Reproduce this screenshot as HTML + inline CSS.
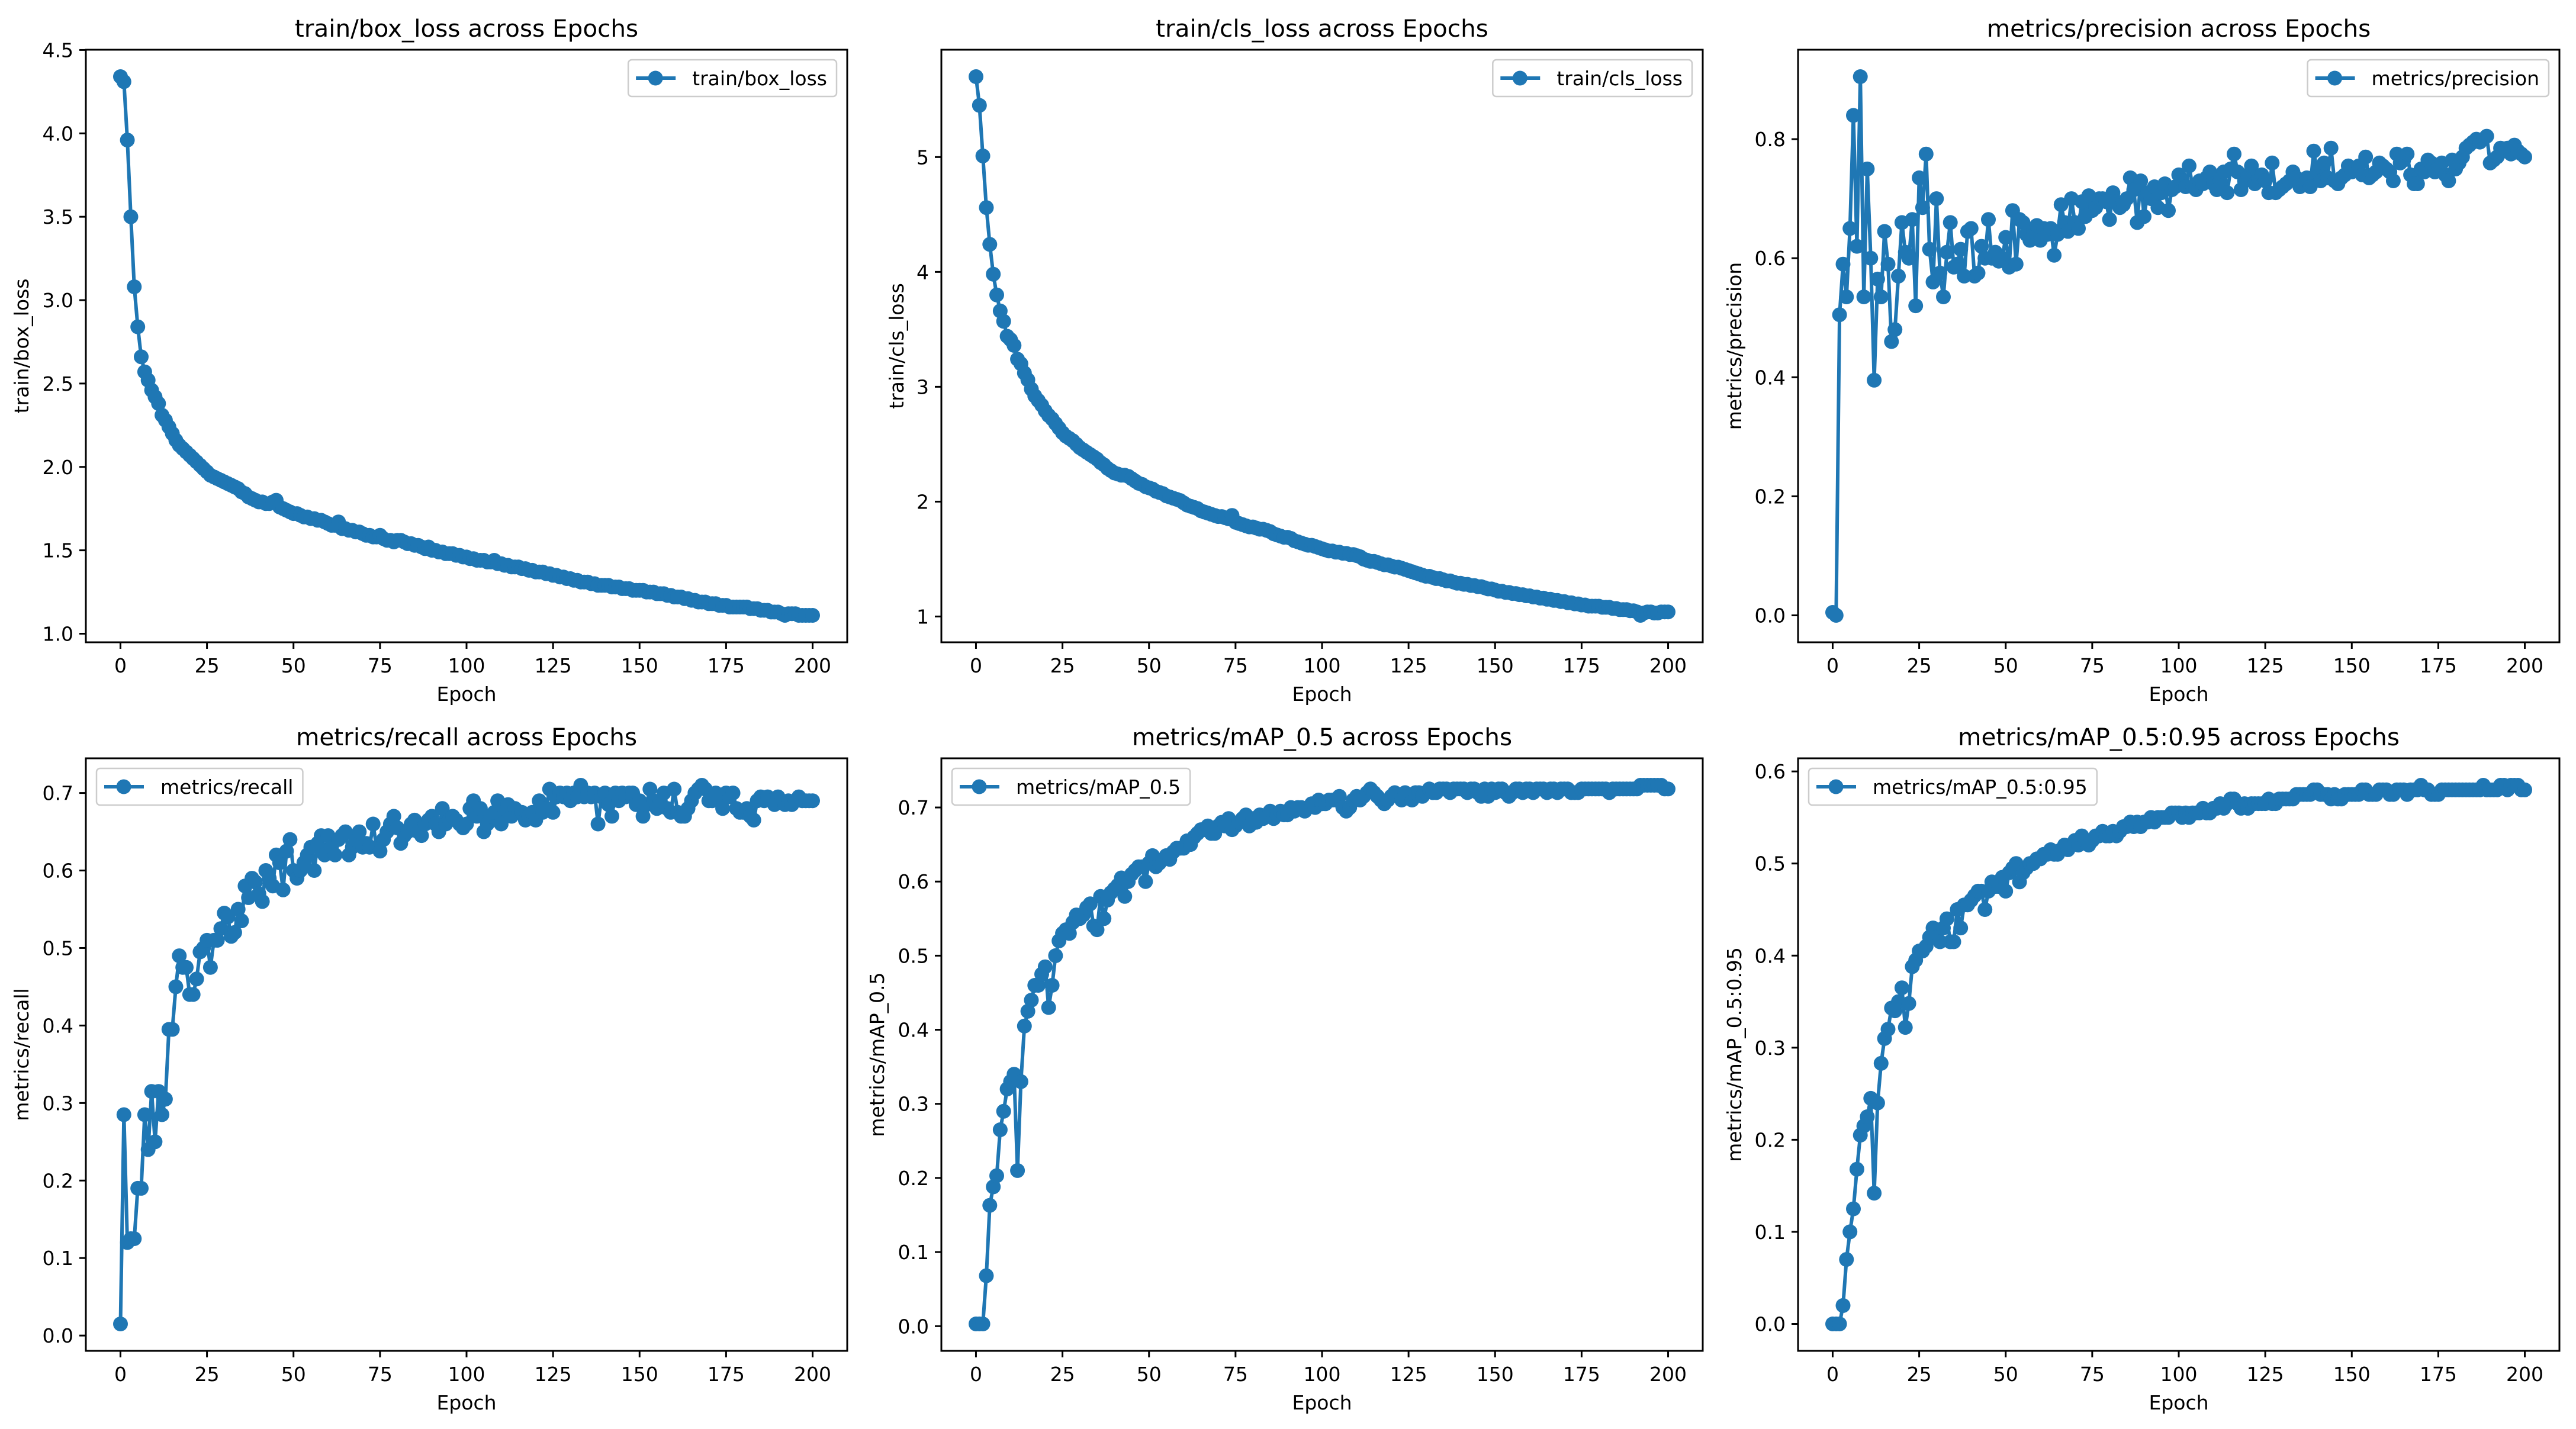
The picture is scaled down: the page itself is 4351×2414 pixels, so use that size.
<!DOCTYPE html>
<html><head><meta charset="utf-8"><style>
html,body{margin:0;padding:0;background:#fff;}
svg{display:block;font-family:"DejaVu Sans","Liberation Sans",sans-serif;}
</style></head><body>
<svg id="fig" width="4351" height="2414" viewBox="0 0 4351 2414" xmlns="http://www.w3.org/2000/svg"></svg>
<script>
const epochs = [];
for (let i = 0; i <= 200; i++) epochs.push(i);
const xTicks = [0,25,50,75,100,125,150,175,200];

const boxLoss = [4.34,4.31,3.96,3.50,3.08,2.84,2.66,2.57,2.52,2.46,
2.42,2.38,2.31,2.28,2.24,2.20,2.16,2.13,2.11,2.09,
2.07,2.05,2.03,2.01,1.99,1.97,1.95,1.94,1.93,1.92,
1.91,1.90,1.89,1.88,1.87,1.85,1.84,1.82,1.81,1.80,
1.79,1.79,1.78,1.78,1.79,1.80,1.76,1.75,1.74,1.73,
1.72,1.72,1.71,1.70,1.70,1.69,1.69,1.68,1.68,1.67,
1.66,1.65,1.65,1.67,1.63,1.63,1.62,1.62,1.61,1.61,
1.60,1.59,1.59,1.58,1.58,1.59,1.57,1.56,1.56,1.55,
1.56,1.56,1.55,1.54,1.54,1.53,1.53,1.52,1.51,1.52,
1.50,1.50,1.49,1.49,1.48,1.48,1.48,1.47,1.47,1.46,
1.46,1.45,1.45,1.44,1.44,1.44,1.43,1.43,1.44,1.42,
1.42,1.41,1.41,1.40,1.40,1.40,1.39,1.39,1.38,1.38,
1.37,1.37,1.37,1.36,1.36,1.35,1.35,1.34,1.34,1.33,
1.33,1.32,1.32,1.31,1.31,1.31,1.30,1.30,1.29,1.29,
1.29,1.29,1.28,1.28,1.28,1.27,1.27,1.27,1.26,1.26,
1.26,1.26,1.25,1.25,1.25,1.24,1.24,1.24,1.23,1.23,
1.22,1.22,1.22,1.21,1.21,1.20,1.20,1.19,1.19,1.19,
1.18,1.18,1.18,1.17,1.17,1.17,1.16,1.16,1.16,1.16,
1.16,1.16,1.15,1.15,1.15,1.14,1.14,1.14,1.13,1.13,
1.13,1.12,1.11,1.12,1.12,1.12,1.11,1.11,1.11,1.11,
1.11];
const boxTicks = [1.0,1.5,2.0,2.5,3.0,3.5,4.0,4.5];

const clsLoss = [5.70,5.45,5.01,4.56,4.24,3.98,3.80,3.66,3.57,3.44,
3.41,3.36,3.24,3.20,3.12,3.06,2.98,2.92,2.88,2.84,
2.79,2.75,2.72,2.68,2.64,2.60,2.57,2.55,2.53,2.50,
2.47,2.45,2.43,2.41,2.39,2.37,2.34,2.32,2.29,2.27,
2.25,2.24,2.23,2.23,2.22,2.20,2.18,2.16,2.15,2.13,
2.12,2.11,2.09,2.08,2.07,2.05,2.04,2.03,2.02,2.01,
1.99,1.97,1.96,1.95,1.94,1.92,1.91,1.90,1.89,1.88,
1.87,1.87,1.86,1.85,1.88,1.82,1.81,1.80,1.79,1.78,
1.78,1.77,1.76,1.76,1.75,1.74,1.72,1.71,1.70,1.69,
1.69,1.68,1.66,1.65,1.64,1.63,1.62,1.62,1.61,1.60,
1.59,1.58,1.57,1.57,1.56,1.56,1.55,1.55,1.54,1.54,
1.53,1.52,1.50,1.49,1.48,1.48,1.47,1.46,1.45,1.45,
1.44,1.43,1.43,1.42,1.41,1.40,1.39,1.38,1.37,1.36,
1.35,1.35,1.34,1.33,1.33,1.32,1.31,1.31,1.30,1.29,
1.29,1.28,1.28,1.27,1.27,1.26,1.26,1.25,1.24,1.24,
1.23,1.22,1.22,1.21,1.21,1.20,1.20,1.19,1.19,1.18,
1.18,1.17,1.17,1.16,1.16,1.15,1.15,1.14,1.14,1.13,
1.13,1.12,1.12,1.11,1.11,1.10,1.10,1.09,1.09,1.09,
1.09,1.08,1.08,1.08,1.07,1.07,1.06,1.06,1.06,1.05,
1.05,1.04,1.01,1.03,1.04,1.04,1.03,1.03,1.04,1.04,
1.04];
const clsTicks = [1,2,3,4,5];

const precision = [0.005,0.0,0.505,0.59,0.535,0.65,0.84,0.62,0.905,0.535,
0.75,0.60,0.395,0.565,0.535,0.645,0.59,0.46,0.48,0.57,
0.66,0.61,0.60,0.665,0.52,0.735,0.685,0.775,0.615,0.56,
0.70,0.575,0.535,0.61,0.66,0.585,0.59,0.615,0.57,0.645,
0.65,0.57,0.575,0.62,0.60,0.665,0.60,0.61,0.595,0.60,
0.635,0.585,0.68,0.59,0.665,0.66,0.64,0.63,0.645,0.655,
0.63,0.65,0.64,0.65,0.605,0.64,0.69,0.66,0.645,0.70,
0.66,0.65,0.695,0.67,0.705,0.68,0.685,0.70,0.70,0.695,
0.665,0.71,0.695,0.685,0.69,0.70,0.735,0.715,0.66,0.73,
0.67,0.71,0.70,0.72,0.685,0.71,0.725,0.68,0.715,0.72,
0.74,0.73,0.72,0.755,0.72,0.715,0.73,0.725,0.735,0.745,
0.725,0.715,0.73,0.745,0.71,0.75,0.775,0.745,0.715,0.73,
0.74,0.755,0.725,0.735,0.74,0.73,0.71,0.76,0.71,0.715,
0.72,0.725,0.73,0.745,0.735,0.72,0.725,0.735,0.72,0.78,
0.745,0.73,0.76,0.735,0.785,0.73,0.725,0.735,0.74,0.755,
0.745,0.75,0.755,0.74,0.77,0.735,0.74,0.745,0.76,0.755,
0.75,0.745,0.73,0.775,0.76,0.765,0.775,0.74,0.725,0.725,
0.75,0.745,0.765,0.76,0.745,0.755,0.76,0.74,0.73,0.765,
0.75,0.76,0.77,0.785,0.79,0.795,0.80,0.795,0.80,0.805,
0.76,0.765,0.77,0.785,0.78,0.785,0.775,0.79,0.78,0.775,
0.77];
const precTicks = [0.0,0.2,0.4,0.6,0.8];

const recall = [0.015,0.285,0.12,0.125,0.125,0.19,0.19,0.285,0.24,0.315,
0.25,0.315,0.285,0.305,0.395,0.395,0.45,0.49,0.475,0.475,
0.44,0.44,0.46,0.495,0.50,0.51,0.475,0.51,0.51,0.525,
0.545,0.54,0.515,0.52,0.55,0.535,0.58,0.565,0.59,0.585,
0.57,0.56,0.60,0.59,0.58,0.62,0.61,0.575,0.625,0.64,
0.60,0.59,0.60,0.61,0.62,0.63,0.60,0.635,0.645,0.62,
0.645,0.63,0.62,0.64,0.645,0.65,0.62,0.63,0.64,0.65,
0.63,0.635,0.63,0.66,0.63,0.625,0.64,0.65,0.66,0.67,
0.655,0.635,0.645,0.65,0.66,0.665,0.65,0.645,0.66,0.665,
0.67,0.66,0.65,0.68,0.66,0.665,0.67,0.665,0.66,0.655,
0.66,0.68,0.69,0.67,0.68,0.65,0.66,0.67,0.675,0.69,
0.66,0.68,0.685,0.67,0.68,0.675,0.675,0.665,0.67,0.675,
0.665,0.69,0.675,0.68,0.705,0.675,0.695,0.70,0.695,0.70,
0.69,0.70,0.695,0.71,0.695,0.70,0.695,0.70,0.66,0.695,
0.70,0.685,0.67,0.70,0.69,0.70,0.695,0.70,0.70,0.685,
0.69,0.67,0.685,0.705,0.69,0.68,0.69,0.70,0.68,0.675,
0.705,0.675,0.67,0.67,0.68,0.69,0.70,0.705,0.71,0.705,
0.69,0.69,0.70,0.695,0.68,0.70,0.695,0.70,0.68,0.675,
0.675,0.68,0.67,0.665,0.69,0.695,0.69,0.695,0.69,0.685,
0.695,0.69,0.685,0.69,0.685,0.69,0.695,0.69,0.69,0.69,
0.69];
const recallTicks = [0.0,0.1,0.2,0.3,0.4,0.5,0.6,0.7];

const map50 = [0.003,0.003,0.003,0.068,0.163,0.188,0.203,0.265,0.29,0.32,
0.33,0.34,0.21,0.33,0.405,0.425,0.44,0.46,0.46,0.475,
0.485,0.43,0.46,0.50,0.52,0.53,0.535,0.53,0.545,0.555,
0.55,0.555,0.565,0.57,0.54,0.535,0.58,0.55,0.575,0.585,
0.59,0.595,0.605,0.58,0.60,0.61,0.615,0.62,0.62,0.60,
0.625,0.635,0.62,0.625,0.63,0.635,0.63,0.64,0.645,0.645,
0.645,0.655,0.65,0.66,0.665,0.67,0.67,0.675,0.665,0.665,
0.675,0.68,0.675,0.685,0.67,0.675,0.68,0.685,0.69,0.675,
0.685,0.68,0.69,0.685,0.69,0.695,0.685,0.69,0.695,0.69,
0.69,0.70,0.695,0.70,0.70,0.695,0.70,0.705,0.70,0.71,
0.705,0.705,0.71,0.71,0.71,0.715,0.70,0.695,0.70,0.71,
0.715,0.71,0.715,0.72,0.725,0.72,0.715,0.71,0.705,0.71,
0.715,0.72,0.715,0.71,0.72,0.715,0.71,0.72,0.72,0.715,
0.72,0.725,0.72,0.72,0.725,0.725,0.725,0.72,0.725,0.725,
0.725,0.725,0.72,0.725,0.725,0.72,0.715,0.725,0.715,0.725,
0.72,0.725,0.725,0.72,0.715,0.72,0.725,0.725,0.72,0.725,
0.725,0.72,0.725,0.725,0.725,0.72,0.725,0.725,0.72,0.725,
0.725,0.725,0.72,0.72,0.72,0.725,0.725,0.725,0.725,0.725,
0.725,0.725,0.725,0.72,0.725,0.725,0.725,0.725,0.725,0.725,
0.725,0.725,0.73,0.73,0.73,0.73,0.73,0.73,0.73,0.725,
0.725];
const map50Ticks = [0.0,0.1,0.2,0.3,0.4,0.5,0.6,0.7];

const map5095 = [0.0,0.0,0.0,0.02,0.07,0.1,0.125,0.168,0.205,0.215,
0.225,0.245,0.142,0.24,0.283,0.31,0.32,0.343,0.34,0.35,
0.365,0.322,0.348,0.388,0.395,0.405,0.405,0.41,0.42,0.43,
0.42,0.415,0.43,0.44,0.415,0.415,0.45,0.43,0.455,0.455,
0.46,0.465,0.47,0.47,0.45,0.47,0.48,0.475,0.475,0.485,
0.47,0.49,0.495,0.50,0.48,0.49,0.495,0.50,0.50,0.505,
0.505,0.51,0.51,0.515,0.51,0.51,0.515,0.52,0.515,0.52,
0.525,0.52,0.53,0.525,0.52,0.525,0.53,0.53,0.535,0.53,
0.53,0.535,0.53,0.535,0.54,0.54,0.545,0.54,0.545,0.54,
0.545,0.545,0.55,0.545,0.55,0.55,0.55,0.55,0.555,0.555,
0.555,0.55,0.555,0.55,0.555,0.555,0.555,0.56,0.555,0.555,
0.56,0.56,0.565,0.56,0.565,0.57,0.57,0.565,0.56,0.565,
0.56,0.565,0.565,0.565,0.565,0.565,0.57,0.565,0.565,0.57,
0.57,0.57,0.57,0.57,0.575,0.575,0.575,0.575,0.575,0.58,
0.58,0.575,0.575,0.575,0.57,0.575,0.57,0.57,0.575,0.575,
0.575,0.575,0.575,0.58,0.58,0.575,0.575,0.575,0.58,0.58,
0.58,0.575,0.575,0.58,0.58,0.58,0.575,0.58,0.58,0.58,
0.585,0.58,0.58,0.575,0.575,0.575,0.58,0.58,0.58,0.58,
0.58,0.58,0.58,0.58,0.58,0.58,0.58,0.58,0.585,0.58,
0.58,0.58,0.58,0.585,0.585,0.58,0.585,0.585,0.585,0.58,
0.58];
const map5095Ticks = [0.0,0.1,0.2,0.3,0.4,0.5,0.6];

const panels = [
  {key:'box-loss', label:'train/box_loss', values:boxLoss, ticks:boxTicks, dec:1, x0:145, y0:84, legend:'right', ylo:109},
  {key:'cls-loss', label:'train/cls_loss', values:clsLoss, ticks:clsTicks, dec:0, x0:1590, y0:84, legend:'right', ylo:76},
  {key:'precision', label:'metrics/precision', values:precision, ticks:precTicks, dec:1, x0:3037, y0:84, legend:'right', ylo:108},
  {key:'recall', label:'metrics/recall', values:recall, ticks:recallTicks, dec:1, x0:145, y0:1281, legend:'left', ylo:109},
  {key:'map50', label:'metrics/mAP_0.5', values:map50, ticks:map50Ticks, dec:1, x0:1590, y0:1281, legend:'left', ylo:109},
  {key:'map50-95', label:'metrics/mAP_0.5:0.95', values:map5095, ticks:map5095Ticks, dec:1, x0:3037, y0:1281, legend:'left', ylo:108}
];

const NS = 'http://www.w3.org/2000/svg';
const fig = document.getElementById('fig');
const W = 1286, H = 1001, BLUE = '#1f77b4';
const FS = 33, R = 12.5, LW = 6;
function mk(tag, attrs, parent) {
  const e = document.createElementNS(NS, tag);
  for (const k in attrs) e.setAttribute(k, attrs[k]);
  parent.appendChild(e);
  return e;
}

panels.forEach(p => {
  const g = mk('g', {}, fig);
  
  
  const xmin = -10, xmax = 210;
  let dmin = Math.min(...p.values), dmax = Math.max(...p.values);
  const pad = (dmax - dmin) * 0.05;
  const ymin = dmin - pad, ymax = dmax + pad;
  const sx = v => p.x0 + (v - xmin) / (xmax - xmin) * W;
  const sy = v => p.y0 + H - (v - ymin) / (ymax - ymin) * H;

  const t = mk('text', {x: p.x0 + W/2, y: p.y0 - 22, 'font-size': 40.5, 'text-anchor': 'middle', fill: '#000'}, g);
  t.textContent = p.label + ' across Epochs';
  
  

  xTicks.forEach(v => {
    const x = sx(v);
    mk('line', {x1: x, x2: x, y1: p.y0 + H, y2: p.y0 + H + 11, stroke: '#000', 'stroke-width': 3}, g);
    const tl = mk('text', {x: x, y: p.y0 + H + 51, 'font-size': FS, 'text-anchor': 'middle', fill: '#000'}, g);
    tl.textContent = String(v);
    
    
  });
  const xl = mk('text', {x: p.x0 + W/2, y: p.y0 + H + 99, 'font-size': FS, 'text-anchor': 'middle', fill: '#000'}, g);
  xl.textContent = 'Epoch';
  
  

  p.ticks.forEach(v => {
    const y = sy(v);
    mk('line', {x1: p.x0 - 11, x2: p.x0, y1: y, y2: y, stroke: '#000', 'stroke-width': 3}, g);
    const tl = mk('text', {x: p.x0 - 21, y: y + 12, 'font-size': FS, 'text-anchor': 'end', fill: '#000'}, g);
    tl.textContent = v.toFixed(p.dec);
    
    
  });
  const yx = p.x0 - p.ylo, yy = p.y0 + H/2;
  const yl = mk('text', {x: yx, y: yy, 'font-size': FS, 'text-anchor': 'middle', fill: '#000', transform: 'rotate(-90 ' + yx + ' ' + yy + ')', dy: 12}, g);
  yl.textContent = p.label;
  
  

  const sg = mk('g', {}, g);
  
  
  let d = '';
  p.values.forEach((v, i) => { d += (i ? 'L' : 'M') + sx(epochs[i]).toFixed(1) + ' ' + sy(v).toFixed(1); });
  const path = mk('path', {d: d, fill: 'none', stroke: BLUE, 'stroke-width': LW, 'stroke-linejoin': 'round'}, sg);
  
  
  p.values.forEach((v, i) => {
    const c = mk('circle', {cx: sx(epochs[i]).toFixed(1), cy: sy(v).toFixed(1), r: R, fill: BLUE}, sg);
    
    
  });

  const fr = mk('rect', {x: p.x0, y: p.y0, width: W, height: H, fill: 'none', stroke: '#000', 'stroke-width': 3}, g);
  
  

  const lg = mk('g', {}, g);
  
  
  const box = mk('rect', {y: p.y0 + 17, height: 62, rx: 6, fill: '#fff', 'fill-opacity': 0.8, stroke: '#cccccc', 'stroke-width': 2.5}, lg);
  const lt = mk('text', {y: p.y0 + 17 + 31 + 12, 'font-size': FS, fill: '#000'}, lg);
  lt.textContent = p.label;
  
  
  const tw = lt.getComputedTextLength();
  const bw = 108 + tw + 16;
  const bx = p.legend === 'right' ? p.x0 + W - 18 - bw : p.x0 + 18;
  box.setAttribute('x', bx);
  box.setAttribute('width', bw);
  lt.setAttribute('x', bx + 108);
  const ly = p.y0 + 17 + 31;
  mk('line', {x1: bx + 13, x2: bx + 80, y1: ly, y2: ly, stroke: BLUE, 'stroke-width': LW}, lg);
  mk('circle', {cx: bx + 46, cy: ly, r: R, fill: BLUE}, lg);
});
</script>
</body></html>
